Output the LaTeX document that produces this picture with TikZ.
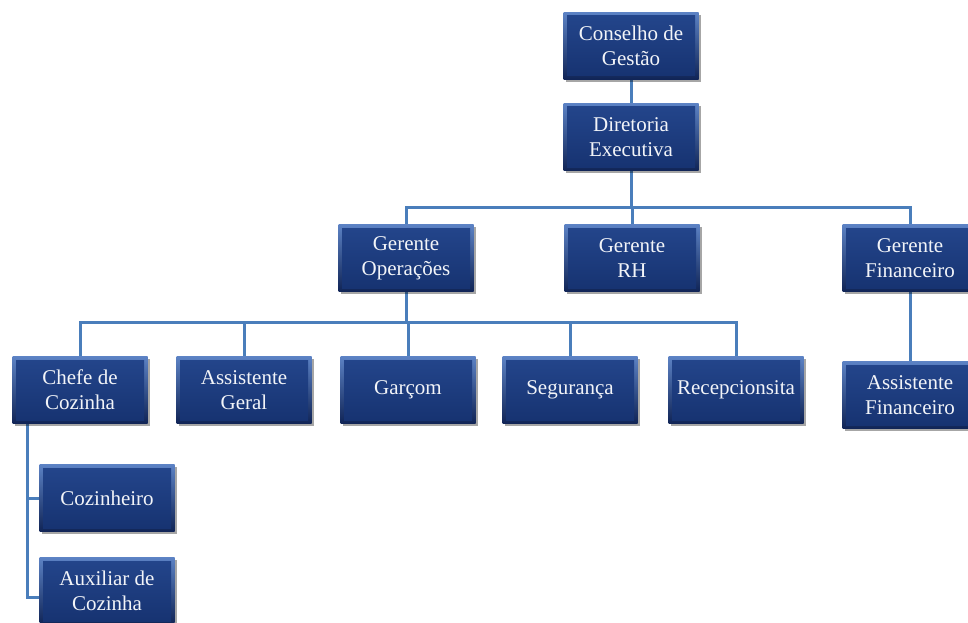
\documentclass[tikz,border=0pt]{standalone}
\usepackage{fontspec}
\setmainfont{Liberation Serif}
\usetikzlibrary{shadows,backgrounds}
\definecolor{conncol}{RGB}{74,126,187}
\definecolor{bevtop}{RGB}{92,130,196}
\definecolor{bevbot}{RGB}{16,36,86}
\definecolor{coretop}{RGB}{36,70,140}
\definecolor{corebot}{RGB}{22,50,112}
\definecolor{txtcol}{RGB}{242,244,248}
\tikzset{
  orgbox/.style={rectangle, minimum width=135pt, minimum height=67pt, inner sep=0pt,
    align=center, text=txtcol, font=\fontsize{21}{25}\selectfont,
    top color=bevtop, bottom color=bevbot,
    drop shadow={shadow xshift=2.5pt, shadow yshift=-2.5pt, opacity=0.35, fill=black},
    path picture={\shade[top color=coretop, bottom color=corebot]
      ([shift={(3.5pt,-3.5pt)}]path picture bounding box.north west) rectangle
      ([shift={(-3.5pt,3.5pt)}]path picture bounding box.south east);}},
  conn/.style={draw=conncol, line width=3pt}
}
\begin{document}
\begin{tikzpicture}[x=1pt,y=-1pt]
\useasboundingbox (0,0) rectangle (968,623);
\clip (0,0) rectangle (968,623);
\node[orgbox] (cons) at (631,46) {Conselho de\\Gestão};
\node[orgbox] (dir) at (631,137) {Diretoria\\Executiva};
\node[orgbox] (gop) at (406,258) {Gerente\\Operações};
\node[orgbox] (grh) at (632,258) {Gerente\\RH};
\node[orgbox] (gfin) at (910,258) {Gerente\\Financeiro};
\node[orgbox] (chefe) at (80,390) {Chefe de\\Cozinha};
\node[orgbox] (ageral) at (244,390) {Assistente\\Geral};
\node[orgbox] (garcom) at (408,390) {Garçom};
\node[orgbox] (seg) at (570,390) {Segurança};
\node[orgbox] (rec) at (736,390) {Recepcionsita};
\node[orgbox] (afin) at (910,395) {Assistente\\Financeiro};
\node[orgbox] (coz) at (107,498) {Cozinheiro};
\node[orgbox] (aux) at (107,591) {Auxiliar de\\Cozinha};
\begin{scope}[on background layer]
\draw[conn] (cons) -- (dir);
\foreach \t in {gop,grh,gfin} \draw[conn] (dir.south) -- ++(0,37) -| (\t.north);
\foreach \t in {chefe,ageral,garcom,seg,rec} \draw[conn] (gop.south) -- ++(0,31) -| (\t.north);
\draw[conn] (gfin) -- (afin);
\draw[conn] ([xshift=15pt]chefe.south west) |- (coz.west);
\draw[conn] ([xshift=15pt]chefe.south west) |- ([yshift=-6pt]aux.west);
\end{scope}
\end{tikzpicture}
\end{document}
